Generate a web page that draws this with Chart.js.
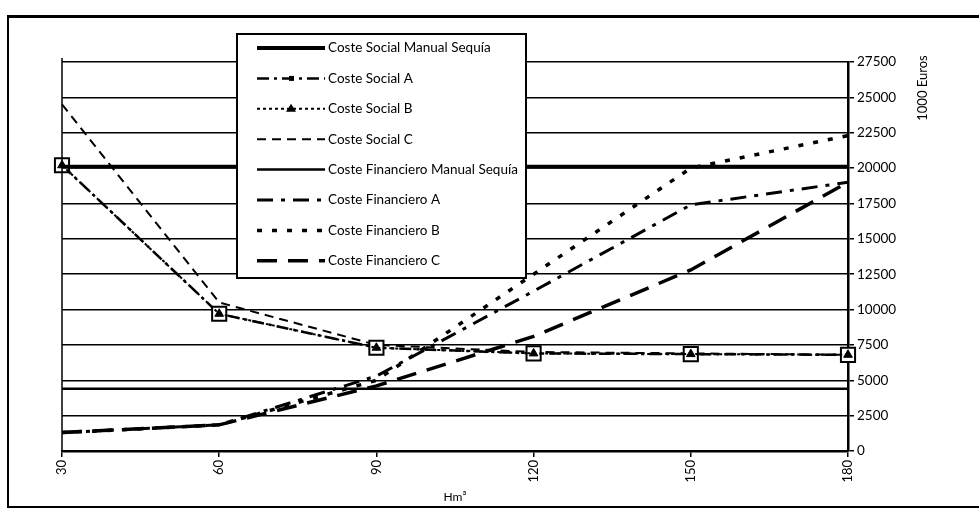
<!DOCTYPE html>
<html>
<head>
<meta charset="utf-8">
<script src="https://cdn.jsdelivr.net/npm/chart.js@4"></script>
<style>
  body { margin: 0; background: #fff; }
  #wrap { position: relative; width: 979px; height: 512px; overflow: hidden; }
  #frame { position: absolute; left: 7px; top: 15px; width: 990px; height: 488px;
           border-left: 2px solid #000; border-top: 3px solid #000; border-bottom: 2px solid #000; }
  canvas { position: absolute; left: 0; top: 0; }
</style>
</head>
<body>
<div id="wrap">
  <div id="frame"></div>
  <canvas id="costChart" width="979" height="512"></canvas>
</div>
<script>
// Hm3 on the x axis, 1000 Euros on the y axis
const xLabels = ['30', '60', '90', '120', '150', '180'];
const yTicks = [0, 2500, 5000, 7500, 10000, 12500, 15000, 17500, 20000, 22500, 25000, 27500];

const costeSocialManual = [20100, 20100, 20100, 20100, 20100, 20100];
const costeSocialA = [20200, 9700, 7300, 6900, 6850, 6800];
const costeSocialB = [20200, 9700, 7300, 6900, 6850, 6800];
const costeSocialC = [24500, 10500, 7500, 7000, 6900, 6800];
const costeFinancieroManual = [4400, 4400, 4400, 4400, 4400, 4400];
const costeFinancieroA = [1300, 1850, 5300, 11300, 17400, 19000];
const costeFinancieroB = [1300, 1850, 5000, 12500, 20000, 22300];
const costeFinancieroC = [1300, 1850, 4600, 8100, 12800, 19000];

const FONT = 'Lato, "Open Sans", sans-serif';

function serie(label, data, width, dash, extra) {
  return Object.assign({
    label: label,
    data: data,
    borderColor: '#000',
    backgroundColor: '#000',
    borderWidth: width,
    borderDash: dash,
    pointRadius: 0,
    tension: 0,
    fill: false,
    order: 1
  }, extra || {});
}

// legend box drawn over the plot, like in the original
const legendBox = {
  id: 'legendBox',
  afterDatasetsDraw(chart) {
    const ctx = chart.ctx;
    const x0 = 237, y0 = 34, w = 289, h = 244;
    ctx.save();
    ctx.fillStyle = '#fff';
    ctx.fillRect(x0, y0, w, h);
    ctx.strokeStyle = '#000';
    ctx.lineWidth = 2;
    ctx.strokeRect(x0, y0, w, h);
    ctx.font = '13.5px ' + FONT;
    ctx.textBaseline = 'middle';
    chart.data.datasets.forEach((ds, i) => {
      const y = y0 + 14 + i * 30.4;
      ctx.strokeStyle = '#000';
      ctx.lineWidth = ds.borderWidth;
      ctx.setLineDash(ds.borderDash || []);
      ctx.beginPath();
      ctx.moveTo(x0 + 20, y);
      ctx.lineTo(x0 + 88, y);
      ctx.stroke();
      ctx.setLineDash([]);
      if (ds.legendMarker === 'rect') {
        ctx.fillStyle = '#000';
        ctx.fillRect(x0 + 52, y - 2.5, 5, 5);
      } else if (ds.legendMarker === 'triangle') {
        ctx.fillStyle = '#000';
        ctx.beginPath();
        ctx.moveTo(x0 + 54, y - 5);
        ctx.lineTo(x0 + 59, y + 3);
        ctx.lineTo(x0 + 49, y + 3);
        ctx.closePath();
        ctx.fill();
      }
      ctx.fillStyle = '#000';
      ctx.fillText(ds.label, x0 + 91, y);
    });
    ctx.restore();
  }
};

// left frame line of the plot and the rotated unit title on the right
const extras = {
  id: 'extras',
  afterDraw(chart) {
    const ctx = chart.ctx;
    const a = chart.chartArea;
    ctx.save();
    ctx.strokeStyle = '#000';
    ctx.lineWidth = 1.5;
    ctx.beginPath();
    ctx.moveTo(a.left, a.top - 4);
    ctx.lineTo(a.left, a.bottom);
    ctx.stroke();
    ctx.translate(chart.scales.y.right - 56, a.top + 26);
    ctx.rotate(-Math.PI / 2);
    ctx.font = '13px ' + FONT;
    ctx.fillStyle = '#000';
    ctx.textAlign = 'center';
    ctx.textBaseline = 'middle';
    ctx.fillText('1000 Euros', 0, 0);
    ctx.restore();
  }
};

const ctx = document.getElementById('costChart').getContext('2d');
new Chart(ctx, {
  type: 'line',
  data: {
    labels: xLabels,
    datasets: [
      serie('Coste Social Manual Sequía', costeSocialManual, 4, []),
      serie('Coste Social A', costeSocialA, 2.5, [12, 5, 3, 5], {
        pointRadius: 10, pointStyle: 'rect', pointBackgroundColor: '#fff',
        pointBorderColor: '#000', pointBorderWidth: 2, legendMarker: 'rect'
      }),
      serie('Coste Social B', costeSocialB, 2, [3, 3], {
        pointRadius: 5, pointStyle: 'triangle', pointBackgroundColor: '#000',
        pointBorderColor: '#000', pointBorderWidth: 1, legendMarker: 'triangle', order: 0
      }),
      serie('Coste Social C', costeSocialC, 2, [9, 6]),
      serie('Coste Financiero Manual Sequía', costeFinancieroManual, 2.5, []),
      serie('Coste Financiero A', costeFinancieroA, 3, [16, 8, 4, 8]),
      serie('Coste Financiero B', costeFinancieroB, 3.5, [5, 10]),
      serie('Coste Financiero C', costeFinancieroC, 3.5, [20, 11])
    ]
  },
  options: {
    responsive: false,
    animation: false,
    layout: { padding: { left: 62, top: 62, right: 0, bottom: 0 } },
    plugins: { legend: { display: false }, tooltip: { enabled: false } },
    scales: {
      x: {
        offset: false,
        grid: { drawOnChartArea: false, drawTicks: true, tickLength: 6, color: '#000', lineWidth: 1.5 },
        border: { display: true, color: '#000', width: 2.5 },
        ticks: { color: '#000', font: { family: FONT, size: 13 }, minRotation: 90, maxRotation: 90, padding: 3 },
        title: { display: true, text: 'Hm³', color: '#000', font: { family: FONT, size: 12 }, padding: { top: 0, bottom: 8 } },
        afterFit(scale) { scale.height = 61; }
      },
      y: {
        position: 'right',
        min: 0,
        max: 27500,
        afterBuildTicks(scale) { scale.ticks = yTicks.map(v => ({ value: v })); },
        grid: { color: '#000', lineWidth: 1.5, drawTicks: true, tickLength: 6 },
        border: { display: true, color: '#000', width: 2.5 },
        ticks: {
          color: '#000', font: { family: FONT, size: 13.5 }, padding: 3,
          callback: v => String(v)
        },
        afterFit(scale) { scale.width = 131; }
      }
    }
  },
  plugins: [legendBox, extras]
});
</script>
</body>
</html>
